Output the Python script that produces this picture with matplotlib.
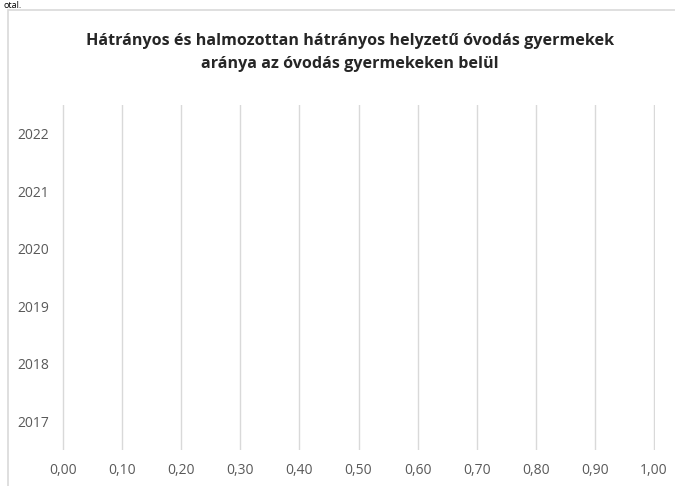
import matplotlib.pyplot as plt
import matplotlib as mpl
from matplotlib.patches import Rectangle
from matplotlib.ticker import FuncFormatter

mpl.rcParams['font.family'] = ['Open Sans', 'DejaVu Sans']

# data
years = ['2017', '2018', '2019', '2020', '2021', '2022']
values = [0, 0, 0, 0, 0, 0]
xticks = [0.0, 0.1, 0.2, 0.3, 0.4, 0.5, 0.6, 0.7, 0.8, 0.9, 1.0]
title = ('Hátrányos és halmozottan hátrányos helyzetű óvodás gyermekek\n'
         'aránya az óvodás gyermekeken belül')

W, H = 675, 486
fig = plt.figure(figsize=(W / 100, H / 100), dpi=100)

# chart frame (partly off canvas)
fig.patches.append(Rectangle((8 / W, -0.1), 1.2, 1 - 10 / H + 0.1,
                             transform=fig.transFigure, fill=False,
                             edgecolor='#d9d9d9', linewidth=1.2))

# text above the chart (cut off in the source)
fig.text(3 / W, 1 - 1 / H, 'otal.', fontsize=6.5, color='black',
         va='top', ha='left')

ax = fig.add_axes([62 / W, 1 - 450 / H, (655 - 62) / W, (450 - 105) / H])
ax.barh(years, values, color='#4472c4', height=0.6)

ax.set_xlim(-0.002, 1.002)
ax.set_ylim(-0.5, len(years) - 0.5)
ax.set_xticks(xticks)
ax.xaxis.set_major_formatter(FuncFormatter(lambda v, p: f'{v:.2f}'.replace('.', ',')))
ax.grid(axis='x', color='#d9d9d9', linewidth=1)
ax.set_axisbelow(True)
for s in ax.spines.values():
    s.set_visible(False)
ax.tick_params(length=0, labelsize=10, labelcolor='#595959')
ax.tick_params(axis='x', pad=9)
ax.tick_params(axis='y', pad=32)
for lbl in ax.get_yticklabels():
    lbl.set_horizontalalignment('left')

fig.text(350 / W, 1 - 33 / H, title, ha='center', va='top',
         fontsize=11.6, fontweight='bold', color='#262626', linespacing=1.55)

plt.savefig('out.png', dpi=100)
plt.close()
